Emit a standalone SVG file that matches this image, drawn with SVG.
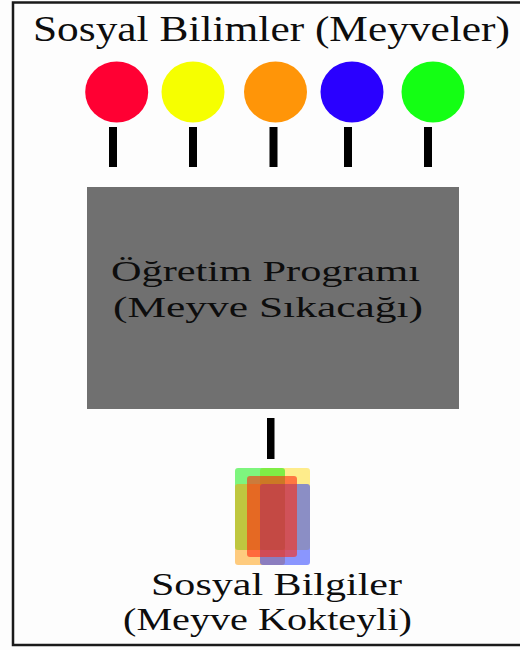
<svg xmlns="http://www.w3.org/2000/svg" width="520" height="650" viewBox="0 0 520 650">
  <style>
    .t { font-family: "Liberation Serif", "Times New Roman", serif; fill: #0d0d0d; }
    .stick { fill: #000; }
    .glass { stroke: none; }
  </style>
  <rect x="0" y="0" width="520" height="650" fill="#fdfdfd"/>
  <rect id="frame" x="13" y="2.5" width="520" height="642.5" fill="none" stroke="#1a1a1a" stroke-width="2.5"/>

  <g id="title">
    <text class="t" x="33" y="41" font-size="35" textLength="477" lengthAdjust="spacingAndGlyphs">Sosyal Bilimler (Meyveler)</text>
  </g>

  <g id="fruit-red"><ellipse cx="116.7" cy="92" rx="31.5" ry="30.5" fill="#ff0033"/></g>
  <g id="fruit-yellow"><ellipse cx="193" cy="92" rx="31.5" ry="30.5" fill="#f6ff00"/></g>
  <g id="fruit-orange"><ellipse cx="275.5" cy="92" rx="31.5" ry="30.5" fill="#ff9508"/></g>
  <g id="fruit-blue"><ellipse cx="352" cy="92" rx="31.5" ry="30.5" fill="#2a00ff"/></g>
  <g id="fruit-green"><ellipse cx="433" cy="92" rx="31.5" ry="30.5" fill="#14ff14"/></g>

  <g id="connectors">
    <rect class="stick" x="109" y="127" width="8" height="40"/>
    <rect class="stick" x="189" y="127" width="8" height="40"/>
    <rect class="stick" x="269.5" y="127" width="8" height="40"/>
    <rect class="stick" x="344" y="127" width="8" height="40"/>
    <rect class="stick" x="424" y="127" width="8" height="40"/>
    <rect class="stick" x="267" y="418" width="7.5" height="41"/>
  </g>

  <g id="juicer">
    <rect x="87" y="187" width="372" height="222" fill="#707070"/>
    <text class="t" x="111" y="281" font-size="29" textLength="309" lengthAdjust="spacingAndGlyphs">Öğretim Programı</text>
    <text class="t" x="113" y="317" font-size="29" textLength="310" lengthAdjust="spacingAndGlyphs">(Meyve Sıkacağı)</text>
  </g>

  <g id="cocktail">
    <rect class="glass" x="260" y="468" width="50" height="82" rx="3" fill="#ffd800" opacity="0.45"/>
    <rect class="glass" x="235" y="468" width="50" height="82" rx="3" fill="#00ee00" opacity="0.5"/>
    <rect class="glass" x="235" y="484" width="50" height="81" rx="3" fill="#ff9a00" opacity="0.5"/>
    <rect class="glass" x="260" y="484" width="50" height="81" rx="3" fill="#1830ff" opacity="0.5"/>
    <rect class="glass" x="247" y="476" width="50" height="81" rx="3" fill="#ff2a10" opacity="0.6"/>
  </g>

  <g id="result">
    <text class="t" x="151" y="595" font-size="32" textLength="251" lengthAdjust="spacingAndGlyphs">Sosyal Bilgiler</text>
    <text class="t" x="123" y="630" font-size="32" textLength="289" lengthAdjust="spacingAndGlyphs">(Meyve Kokteyli)</text>
  </g>
</svg>
